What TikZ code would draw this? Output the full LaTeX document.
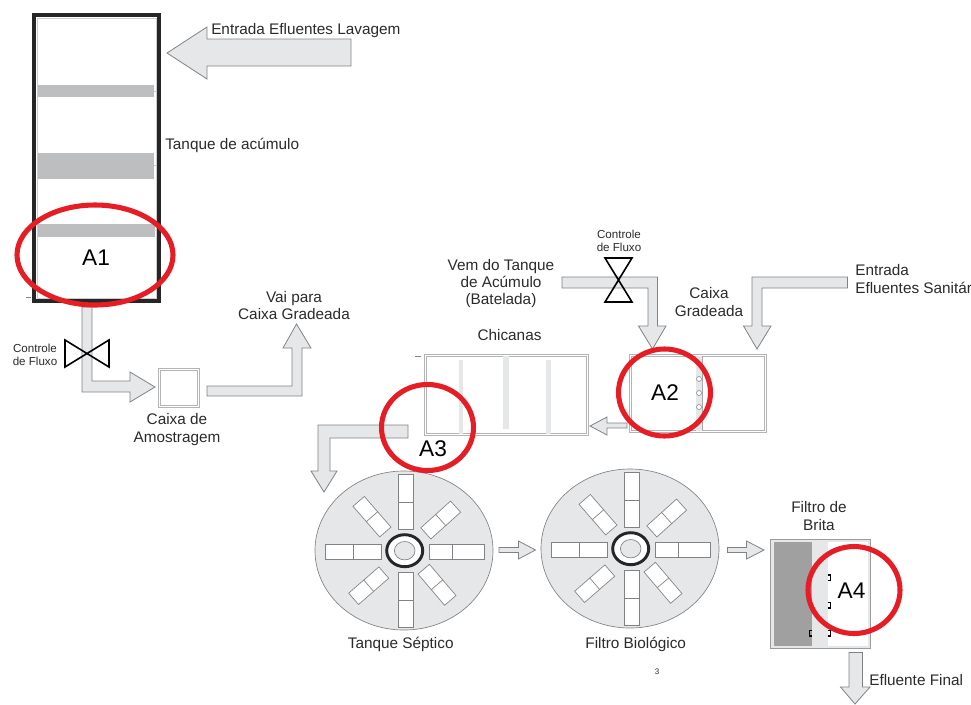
\documentclass[tikz,border=0pt]{standalone}
\usepackage{fontspec}
\setmainfont{Liberation Sans}
\usetikzlibrary{calc}
\definecolor{pipefill}{HTML}{E6E7E8}
\definecolor{pipeline}{HTML}{808285}
\definecolor{bandgray}{HTML}{BCBEC0}
\definecolor{gravel}{HTML}{A0A0A0}
\definecolor{inktext}{HTML}{2B2A29}
\definecolor{zonered}{HTML}{E71D25}

\begin{document}
\begin{tikzpicture}[
  x=0.75pt, y=-0.75pt,
  lbl/.style={align=center, inner sep=0pt, text=inktext,
              font=\fontsize{11.5}{13}\selectfont},
  small/.style={lbl, font=\fontsize{8.7}{9.8}\selectfont},
  zonetxt/.style={lbl, text=black, font=\fontsize{17}{18}\selectfont},
  pipe/.style={draw=pipeline, fill=pipefill, line width=0.6pt, line join=miter},
  valve/.style={draw=black, line width=1.2pt, line join=miter},
  boxwall/.style={draw=pipeline!60, double=white, double distance=1.3pt, line width=0.5pt},
  baffle/.style={fill=pipefill, draw=none},
  paddle/.style={draw=pipeline, fill=white, line width=0.5pt, inner sep=0pt,
                 minimum height=11.25pt},
  zone/.style={draw=zonered, line width=3.8pt},
  grate/.style={draw=black, line width=0.8pt}
]
\useasboundingbox (0,0) rectangle (971,704);

% tanque de acumulo
\draw[draw=pipeline!40, line width=0.6pt] (37,18) rectangle (156,298);
\fill[bandgray] (38,85) rectangle (154,97);
\fill[bandgray] (38,153) rectangle (154,179);
\fill[bandgray] (38,224) rectangle (155,237);
\foreach \ty in {91,165,230}
  \draw[pipeline!40, line width=0.4pt] (154,\ty) -- (157,\ty);
\draw[draw=black!85, line width=2.3pt] (34,15) rectangle (159,301);
\draw[pipeline, line width=0.5pt] (26,297) -- (31,297);
\node[lbl, anchor=west] (tanque) at (165,145.5) {Tanque de acúmulo};
\draw[pipe] (167,53) -- (207,27) -- (207,39) -- (351,39) -- (351,66) -- (207,66) -- (207,79) -- cycle;
\node[lbl, anchor=west] (lavagem) at (211,30.5) {Entrada Efluentes Lavagem};

% saida do tanque e amostragem
\draw[pipe] (82,307) -- (92,307) -- (92,381) -- (130,381) -- (130,372) -- (155,387)
  -- (130,402) -- (130,392) -- (82,392) -- cycle;
\draw[valve] (65,340) -- (109,367) -- (109,340) -- (65,367) -- cycle;
\node[small] (fluxo1) at (35,354.5) {Controle\\de Fluxo};
\draw[boxwall] (159.5,369.5) rectangle (198.5,406.5);
\node[lbl] (amostra) at (177,429.5) {Caixa de\\Amostragem};
\draw[pipe] (207,386) -- (292,386) -- (292,348) -- (283,348) -- (296.5,324) -- (311,348)
  -- (302,348) -- (302,396) -- (207,396) -- cycle;
\node[lbl] (vaipara) at (294,305.5) {Vai para\\Caixa Gradeada};

% caixa gradeada
\draw[pipe] (562,277) -- (657.5,277) -- (657.5,326) -- (666,326) -- (652.5,349) -- (638.5,326)
  -- (648,326) -- (648,288) -- (562,288) -- cycle;
\draw[valve] (605,258) -- (632,258) -- (605,302) -- (632,302) -- cycle;
\node[small] (fluxo2) at (619,240.5) {Controle\\de Fluxo};
\node[lbl] (vemdo) at (501,283.5) {Vem do Tanque\\de Acúmulo\\(Batelada)};
\node[lbl] (gradeada) at (709,302) {Caixa\\Gradeada};
\draw[pipe] (847.5,277) -- (752,277) -- (752,326) -- (743.5,326) -- (757,349) -- (771,326)
  -- (762,326) -- (762,288) -- (847.5,288) -- cycle;
\node[lbl, align=left, anchor=west] (sanitar) at (855,279) {Entrada\\Efluentes Sanitár};
\draw[boxwall] (630.5,355.5) rectangle (765.5,431.5);
\fill[pipefill] (696,356) rectangle (702.5,431);
\draw[pipeline!70, line width=0.4pt] (702.5,356) -- (702.5,431);
\foreach \gy in {379,393,407}
  \draw[pipeline, fill=white, line width=0.4pt] (699,\gy) circle [radius=2.5];

% chicanas
\node[lbl] (chicanas) at (509.5,335) {Chicanas};
\draw[boxwall] (425.5,355.5) rectangle (587.5,434.5);
\fill[pipefill] (458.5,360) rectangle (463,434);
\fill[pipefill] (503,356) rectangle (508.5,429);
\fill[pipefill] (545.5,360) rectangle (550.5,434);
\draw[pipeline, line width=0.5pt] (415,356) -- (421,356);
\draw[pipe] (627,423) -- (607,423) -- (607,417) -- (590,426) -- (607,435) -- (607,428) -- (627,428) -- cycle;
\draw[pipe] (408,425) -- (318,425) -- (318,471) -- (311,471) -- (324,492) -- (337,471)
  -- (330,471) -- (330,438) -- (408,438) -- cycle;

% tanque septico e filtro biologico
\foreach \dx/\dy/\dn in {0/0/ts,226/-2/fb} {
  \begin{scope}[shift={(\dx,\dy)}]
    \draw[draw=pipeline, fill=pipefill, line width=0.5pt] (404,550.5) ellipse [x radius=89, y radius=79.5];
    \foreach \px/\py/\pang/\plen/\pfrac/\pn in {
        406/502/90/55/0.5/up, 406/600/90/55/0.5/down, 353/552/0/56/0.5/left, 457/551.5/0/55/0.41/right,
        372/516.7/-49/40.6/0.5/ul, 440.7/520/42/40/0.5/ur, 368.7/585.7/41/40/0.5/ll, 437/584.8/-49.6/41/0.5/lr} {
      \node[paddle, rotate=\pang, minimum width=\plen*0.75pt] (\dn-\pn) at (\px,\py) {};
      \draw[pipeline, line width=0.5pt] ($(\dn-\pn.north west)!\pfrac!(\dn-\pn.north east)$)
        -- ($(\dn-\pn.south west)!\pfrac!(\dn-\pn.south east)$);
    }
    \draw[draw=black!85, fill=white, line width=2.2pt] (404.7,550.7) ellipse [x radius=18, y radius=16];
    \draw[draw=pipeline, fill=pipefill, line width=0.5pt] (404.7,550.7) ellipse [x radius=10.3, y radius=9.2];
  \end{scope}
}
\draw[pipe] (499,547.5) -- (518.5,547.5) -- (518.5,541) -- (535.5,550) -- (518.5,559) -- (518.5,552.5) -- (499,552.5) -- cycle;
\draw[pipe] (727.5,547.5) -- (746.5,547.5) -- (746.5,541) -- (764,550) -- (746.5,559) -- (746.5,552.5) -- (727.5,552.5) -- cycle;
\node[lbl] (septico) at (400.7,644) {Tanque Séptico};
\node[lbl] (biologico) at (635.7,644) {Filtro Biológico};
\node[lbl, font=\fontsize{6}{7}\selectfont] (pagina) at (657,672) {3};

% filtro de brita
\node[lbl] (brita) at (819,516) {Filtro de\\Brita};
\draw[draw=pipeline!80, fill=pipefill, line width=0.7pt] (770.5,539) rectangle (870.5,648);
\fill[white] (827.5,542) rectangle (867.5,645.5);
\fill[gravel] (773.5,542) rectangle (811.5,645.5);
\foreach \by in {575,602.5,630.5}
  \draw[grate] (827.5,\by) -- (830.5,\by) -- (830.5,\by+5.5) -- (827.5,\by+5.5);
\draw[grate] (811.5,630.5) -- (809.5,630.5) -- (809.5,636) -- (811.5,636);
\draw[pipe] (849,652.5) -- (862.5,652.5) -- (862.5,687) -- (870,687) -- (855,704) -- (840.5,687) -- (849,687) -- cycle;
\node[lbl, anchor=west] (final) at (869,680) {Efluente Final};

% areas A1 a A4
\draw[zone] (95,255) ellipse [x radius=78, y radius=50];
\draw[zone] (664.5,392.5) ellipse [x radius=46, y radius=43.5];
\draw[zone] (427.5,427.5) ellipse [x radius=46, y radius=43];
\draw[zone] (854,590) ellipse [x radius=46, y radius=43.5];
\node[zonetxt] (a1) at (96,258) {A1};
\node[zonetxt] (a2) at (665,393) {A2};
\node[zonetxt] (a3) at (433,449) {A3};
\node[zonetxt] (a4) at (851.5,591) {A4};
\end{tikzpicture}
\end{document}
